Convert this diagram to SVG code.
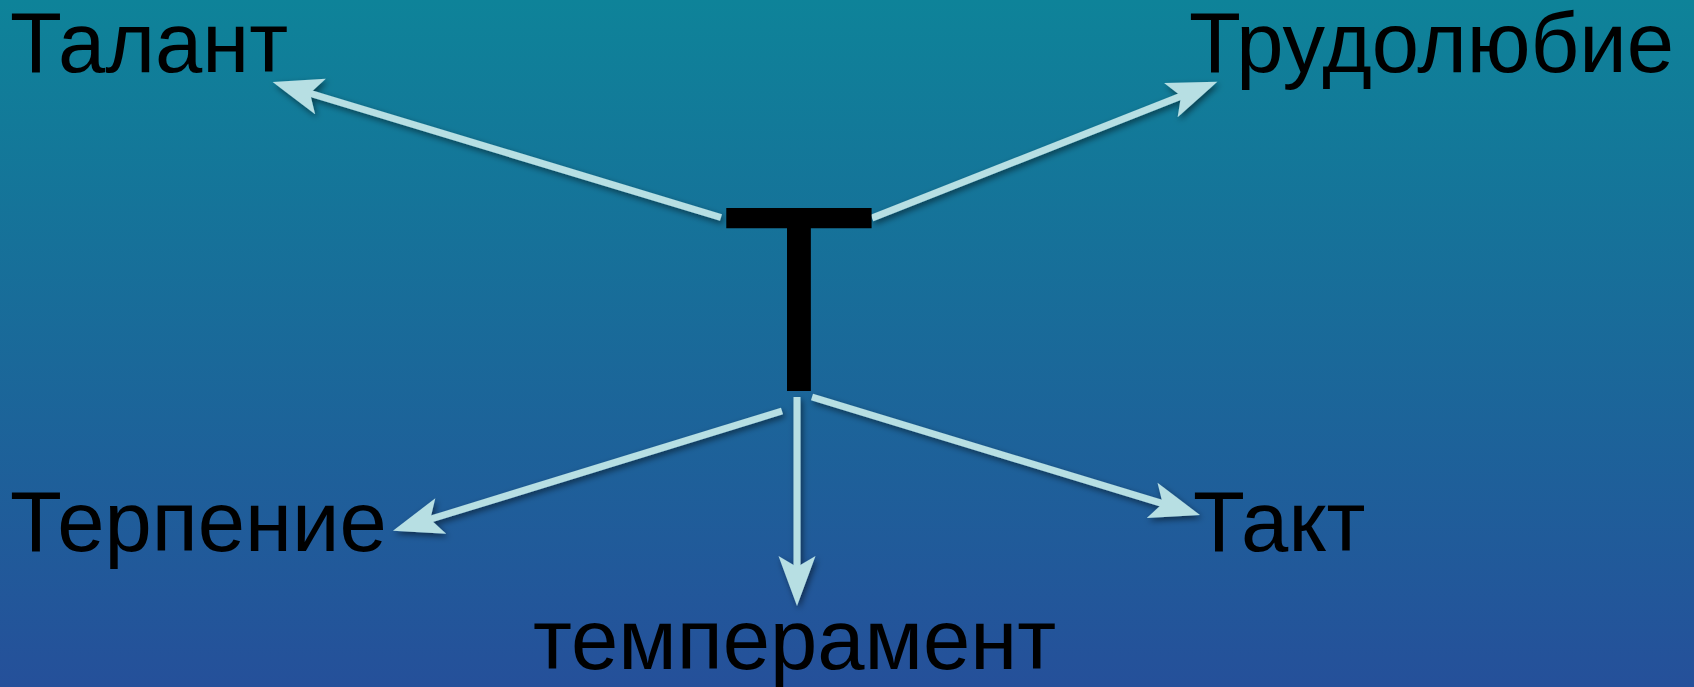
<svg xmlns="http://www.w3.org/2000/svg" width="1694" height="687" viewBox="0 0 1694 687">
  <defs>
    <linearGradient id="bg" x1="0" y1="0" x2="0" y2="1">
      <stop offset="0" stop-color="#0E8399"/>
      <stop offset="1" stop-color="#25509A"/>
    </linearGradient>
    <filter id="shadow" x="-20%" y="-20%" width="140%" height="140%">
      <feDropShadow dx="2" dy="3" stdDeviation="3" flood-color="#000" flood-opacity="0.5"/>
    </filter>
    <marker id="head" markerUnits="userSpaceOnUse" viewBox="-15 -20 55 40" markerWidth="55" markerHeight="40" refX="0" refY="0" orient="auto" overflow="visible">
      <path d="M38,0 L-12,-18.5 L-1,0 L-12,18.5 Z" fill="#B7DFE3"/>
    </marker>
  </defs>
  <style>
    .lbl { font-family: "Liberation Sans", Arial, sans-serif; font-size: 85px; fill: #000; }
    .big { font-family: "Liberation Sans", Arial, sans-serif; font-size: 257px; fill: #000; }
    .conn { stroke: #B7DFE3; stroke-width: 7; fill: none; marker-end: url(#head); }
  </style>
  <rect width="1694" height="687" fill="url(#bg)"/>

  <g id="connectors" filter="url(#shadow)">
    <line class="conn" x1="721" y1="217.5" x2="309" y2="93"/>
    <line class="conn" x1="872" y1="218" x2="1182" y2="95.7"/>
    <line class="conn" x1="782" y1="411" x2="429.3" y2="519.5"/>
    <line class="conn" x1="812" y1="397" x2="1163.6" y2="503.9"/>
    <line class="conn" x1="797" y1="397" x2="797" y2="568"/>
  </g>

  <g id="center">
    <text class="big" transform="translate(799,391) scale(1,1.035)" x="0" y="0" text-anchor="middle">Т</text>
  </g>
  <g id="talant">
    <text class="lbl" x="10" y="72">Талант</text>
  </g>
  <g id="trudolubie">
    <text class="lbl" x="1189" y="72">Трудолюбие</text>
  </g>
  <g id="terpenie">
    <text class="lbl" x="10" y="551">Терпение</text>
  </g>
  <g id="takt">
    <text class="lbl" x="1193" y="551">Такт</text>
  </g>
  <g id="temperament">
    <text class="lbl" x="533" y="669">темперамент</text>
  </g>
</svg>
